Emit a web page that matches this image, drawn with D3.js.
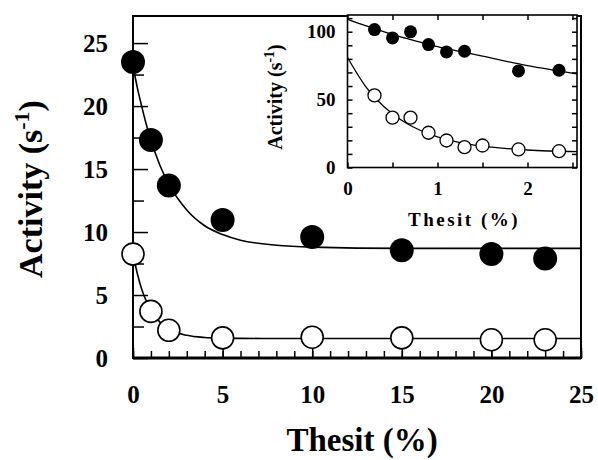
<!DOCTYPE html>
<html>
<head>
<meta charset="utf-8">
<script src="https://cdn.jsdelivr.net/npm/d3@7"></script>
<style>
  body { margin:0; background:#fff; }
  .textos { font-family:"Liberation Serif","Times New Roman",serif; font-weight:bold; fill:#000; }
  .eje path { display:none; }
  .eje line { stroke:#000; stroke-width:1.5; }
</style>
</head>
<body>
<div id="zona_grafica"></div>
<script>
//Datos grafica principal (Thesit %, actividad s-1)
var thesit = [0,1,2,5,10,15,20,23]
var actLleno = [23.5,17.3,13.7,10.95,9.6,8.55,8.25,7.9]
var actVacio = [8.25,3.7,2.2,1.6,1.65,1.6,1.45,1.45]

//Curvas de ajuste
var ajusteX = [0,0.25,0.5,0.75,1,1.5,2,3,4,5,6,8,10,15,20,25]
var ajusteLleno = [23.2,21.4,19.9,18.5,17.3,15.3,13.8,11.75,10.5,9.8,9.35,8.95,8.8,8.7,8.7,8.7]
var ajusteVacio = [8.25,6.65,5.4,4.5,3.8,2.85,2.3,1.8,1.63,1.58,1.56,1.55,1.55,1.55,1.55,1.55]

//Datos del recuadro
var insThesitLleno = [0.3,0.5,0.7,0.9,1.1,1.3,1.9,2.35]
var insLleno = [101.6,95.4,99.9,90.5,85.1,85.6,71.1,71.6]
var insThesitVacio = [0.3,0.5,0.7,0.9,1.1,1.3,1.5,1.9,2.35]
var insVacio = [53.1,36.7,36.7,25.6,19.9,15,16.2,13.3,12]
var insAjusteX = [0,0.2,0.4,0.6,0.8,1,1.25,1.5,2,2.55]
var insAjusteLleno = [109,104.5,100,96,92.5,89,85.5,82,75,69]
var insAjusteVacio = [81,59.8,45.1,34.8,27.6,22.6,18.4,15.7,12.9,11.7]

//Ticks
var ticksX = [0,5,10,15,20,25]
var ticksXmenor = d3.range(0,26)
var ticksY = [0,5,10,15,20,25]
var ticksYmenor = [2.5,7.5,12.5,17.5,22.5]
var insTicksX = [0,0.5,1,1.5,2,2.5]
var insTicksY = d3.range(0,111,10)
var insEtiqY = [0,50,100]

var width = 598, height = 460
var margin = {top:16, right:17, left:133, bottom:102}

var svg = d3.select("#zona_grafica")
    .append("svg")
    .attr('width',width)
    .attr('height',height)

//Escalas
var escalaX = d3.scaleLinear()
    .domain([0,25])
    .range([margin.left, width-margin.right])

var escalaY = d3.scaleLinear()
    .domain([0,27.15])
    .range([height-margin.bottom, margin.top])

//Marco
svg.append('rect')
    .attr('x',margin.left)
    .attr('y',margin.top)
    .attr('width',escalaX(25)-margin.left)
    .attr('height',escalaY(0)-margin.top)
    .attr('fill','none')
    .attr('stroke','#000')
    .attr('stroke-width',2)

svg.append('line')
    .attr('x1',margin.left).attr('x2',escalaX(25))
    .attr('y1',escalaY(0)).attr('y2',escalaY(0))
    .attr('stroke','#000')
    .attr('stroke-width',3)

//Ejes
svg.append('g')
    .attr('class','eje textos')
    .attr('transform','translate(0,'+escalaY(0)+')')
    .call(d3.axisBottom(escalaX).tickValues(ticksXmenor).tickSize(-7).tickFormat(''))

svg.append('g')
    .attr('class','eje textos')
    .attr('transform','translate(0,'+escalaY(0)+')')
    .call(d3.axisBottom(escalaX).tickValues(ticksX).tickSize(-10).tickPadding(27).tickFormat(d3.format('d')))
    .selectAll('text').style('font-size','25px')

svg.append('g')
    .attr('class','eje textos')
    .attr('transform','translate('+margin.left+',0)')
    .call(d3.axisLeft(escalaY).tickValues(ticksYmenor).tickSize(-11).tickFormat(''))

svg.append('g')
    .attr('class','eje textos')
    .attr('transform','translate('+margin.left+',0)')
    .call(d3.axisLeft(escalaY).tickValues(ticksY).tickSize(-15).tickPadding(25).tickFormat(d3.format('d')))
    .selectAll('text').style('font-size','25px')

//Titulos ejes
svg.append('text')
    .attr('class','textos')
    .attr('text-anchor','middle')
    .attr('x',362)
    .attr('y',451)
    .style('font-size','33px')
    .text('Thesit (%)')

var tituloY = svg.append('text')
    .attr('class','textos')
    .attr('text-anchor','middle')
    .attr('transform','translate(42,189) rotate(-90)')
    .style('font-size','34px')
tituloY.append('tspan').text('Activity (s')
tituloY.append('tspan').attr('dy',-13).style('font-size','22px').text('-1')
tituloY.append('tspan').attr('dy',13).text(')')

//Lineas de ajuste
var linea = d3.line()
    .x((d,i) => escalaX(ajusteX[i]))
    .y(d => escalaY(d))
    .curve(d3.curveMonotoneX)

svg.append('path')
    .attr('d',linea(ajusteLleno))
    .attr('fill','none').attr('stroke','#000').attr('stroke-width',1.6)

svg.append('path')
    .attr('d',linea(ajusteVacio))
    .attr('fill','none').attr('stroke','#000').attr('stroke-width',1.6)

//Puntos
svg.append('g')
    .selectAll('circle')
    .data(actLleno).enter()
    .append('circle')
    .attr('cx',(d,i) => escalaX(thesit[i]))
    .attr('cy',d => escalaY(d))
    .attr('r',12)
    .attr('fill','#000')

svg.append('g')
    .selectAll('circle')
    .data(actVacio).enter()
    .append('circle')
    .attr('cx',(d,i) => escalaX(thesit[i]))
    .attr('cy',d => escalaY(d))
    .attr('r',11)
    .attr('fill','#fff')
    .attr('stroke','#000')
    .attr('stroke-width',1.6)

//Recuadro (inset)
var insX = d3.scaleLinear()
    .domain([0,2.55])
    .range([347.5,577])

var insY = d3.scaleLinear()
    .domain([0,112.3])
    .range([167.5,15])

svg.append('rect')
    .attr('x',insX(0))
    .attr('y',insY(112.3))
    .attr('width',insX(2.55)-insX(0))
    .attr('height',insY(0)-insY(112.3))
    .attr('fill','#fff')
    .attr('stroke','#000')
    .attr('stroke-width',1.6)

svg.append('g')
    .attr('class','eje textos')
    .attr('transform','translate(0,'+insY(0)+')')
    .call(d3.axisBottom(insX).tickValues(insTicksX).tickSize(-5).tickPadding(14)
        .tickFormat(d => d%1==0 ? d : ''))
    .selectAll('text').style('font-size','19px')

svg.append('g')
    .attr('class','eje textos')
    .attr('transform','translate(0,'+insY(112.3)+')')
    .call(d3.axisTop(insX).tickValues(insTicksX).tickSize(-5).tickFormat(''))

svg.append('g')
    .attr('class','eje textos')
    .attr('transform','translate('+insX(0)+',0)')
    .call(d3.axisLeft(insY).tickValues(insTicksY).tickSize(-5).tickPadding(12)
        .tickFormat(d => insEtiqY.indexOf(d)>=0 ? d : ''))
    .selectAll('text').style('font-size','19px')

svg.append('g')
    .attr('class','eje textos')
    .attr('transform','translate('+insX(2.55)+',0)')
    .call(d3.axisRight(insY).tickValues(insTicksY).tickSize(-5).tickFormat(''))

svg.append('text')
    .attr('class','textos')
    .attr('text-anchor','middle')
    .attr('x',464)
    .attr('y',226)
    .style('font-size','19px')
    .style('letter-spacing','2.5px')
    .text('Thesit (%)')

var insTituloY = svg.append('text')
    .attr('class','textos')
    .attr('text-anchor','middle')
    .attr('transform','translate(282,97) rotate(-90)')
    .style('font-size','20px')
insTituloY.append('tspan').text('Activity (s')
insTituloY.append('tspan').attr('dy',-8).style('font-size','14px').text('-1')
insTituloY.append('tspan').attr('dy',8).text(')')

var insLinea = d3.line()
    .x((d,i) => insX(insAjusteX[i]))
    .y(d => insY(d))
    .curve(d3.curveMonotoneX)

svg.append('path')
    .attr('d',insLinea(insAjusteLleno))
    .attr('fill','none').attr('stroke','#000').attr('stroke-width',1.3)

svg.append('path')
    .attr('d',insLinea(insAjusteVacio))
    .attr('fill','none').attr('stroke','#000').attr('stroke-width',1.3)

svg.append('g')
    .selectAll('circle')
    .data(insLleno).enter()
    .append('circle')
    .attr('cx',(d,i) => insX(insThesitLleno[i]))
    .attr('cy',d => insY(d))
    .attr('r',6.5)
    .attr('fill','#000')

svg.append('g')
    .selectAll('circle')
    .data(insVacio).enter()
    .append('circle')
    .attr('cx',(d,i) => insX(insThesitVacio[i]))
    .attr('cy',d => insY(d))
    .attr('r',6.5)
    .attr('fill','#fff')
    .attr('stroke','#000')
    .attr('stroke-width',1.3)
</script>
</body>
</html>
